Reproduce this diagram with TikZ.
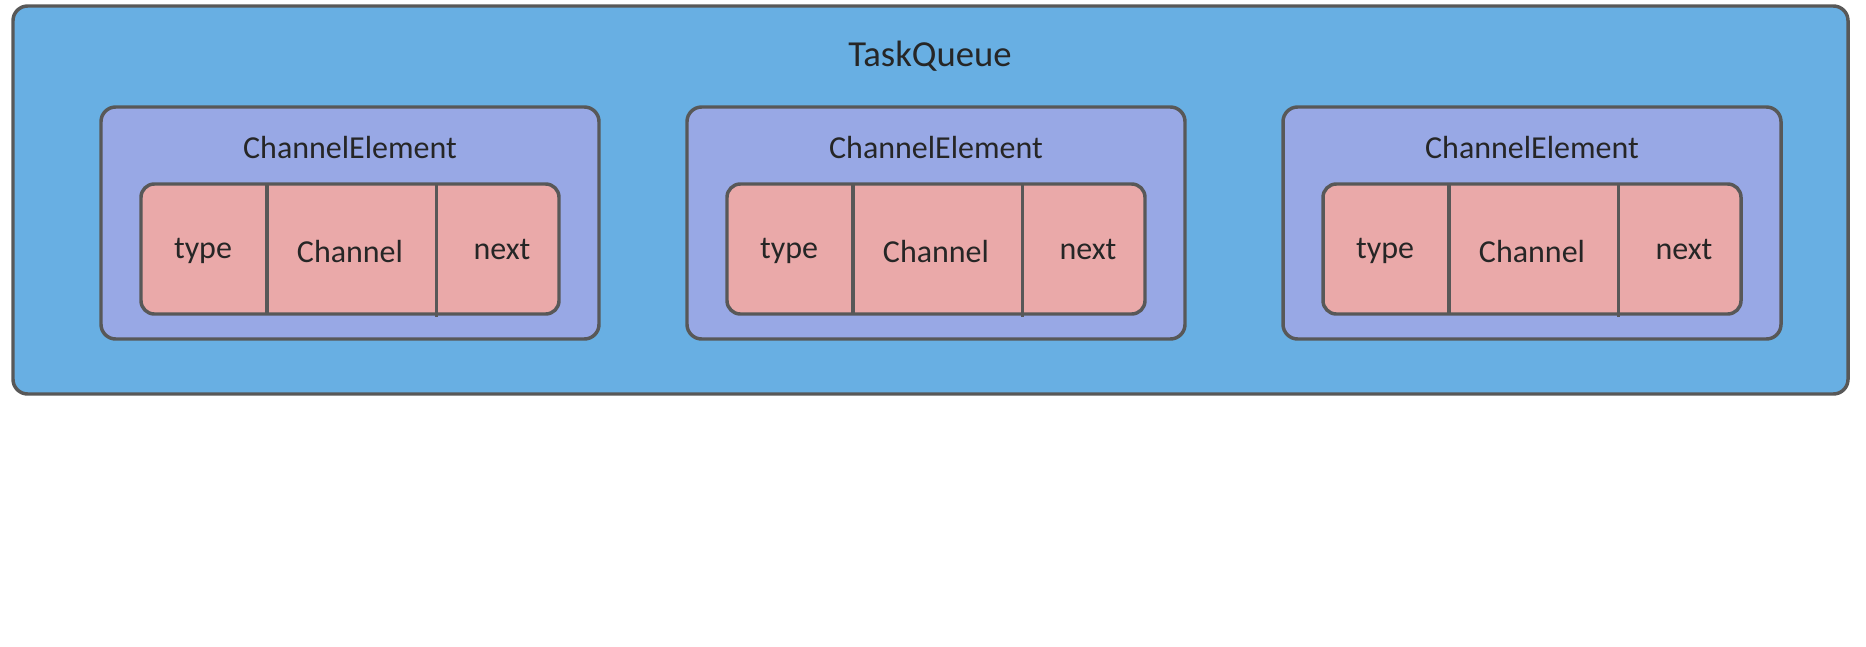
\documentclass[tikz,border=0pt]{standalone}
\usepackage{fontspec}
\setmainfont{Carlito}
\usetikzlibrary{calc}
\definecolor{qblue}{RGB}{104,175,227}
\definecolor{eblue}{RGB}{152,168,229}
\definecolor{rpink}{RGB}{234,169,169}
\definecolor{edge}{RGB}{88,88,88}
\definecolor{ink}{RGB}{38,38,38}
\tikzset{
  queuebox/.style={draw=edge, line width=2.6pt, fill=qblue, rounded corners=11pt, inner sep=0pt,
    minimum width=1835*0.75pt, minimum height=388*0.75pt},
  elembox/.style={draw=edge, line width=2.6pt, fill=eblue, rounded corners=11pt, inner sep=0pt,
    minimum width=498*0.75pt, minimum height=232*0.75pt},
  fieldbox/.style={draw=edge, line width=2.6pt, fill=rpink, rounded corners=10pt, inner sep=0pt,
    minimum width=418*0.75pt, minimum height=130*0.75pt},
  divider/.style={draw=edge, line width=2.6pt},
  lbl/.style={text=ink, inner sep=0pt, anchor=base, font=\fontsize{24}{28}\selectfont},
  ttl/.style={text=ink, inner sep=0pt, anchor=base, font=\fontsize{27.5}{32}\selectfont},
}
\begin{document}
\begin{tikzpicture}[x=0.75pt, y=-0.75pt]
\useasboundingbox (0,0) rectangle (1866,646);
\node[queuebox] (queue) at (930.5,200) {};
\node[ttl] (qtitle) at (930,66.7) {TaskQueue};
\foreach \i/\dx in {1/0, 2/586, 3/1182} {
  \node[elembox] (ce\i) at (350+\dx,223) {};
  \node[lbl] (cet\i) at (350+\dx,158) {ChannelElement};
  \node[fieldbox] (f\i) at (350+\dx,249) {};
  \coordinate (d1t\i) at (267+\dx,185);
  \coordinate (d1b\i) at (267+\dx,314);
  \coordinate (d2t\i) at (436.6+\dx,185);
  \coordinate (d2b\i) at (436.6+\dx,317);
  \draw[divider] (d1t\i) -- (d1b\i);
  \draw[divider] (d2t\i) -- (d2b\i);
  \node[lbl] (ty\i) at (203+\dx,258) {type};
  \node[lbl] (ch\i) at (350+\dx,262) {Channel};
  \node[lbl] (nx\i) at (502+\dx,259) {next};
}
\end{tikzpicture}
\end{document}
